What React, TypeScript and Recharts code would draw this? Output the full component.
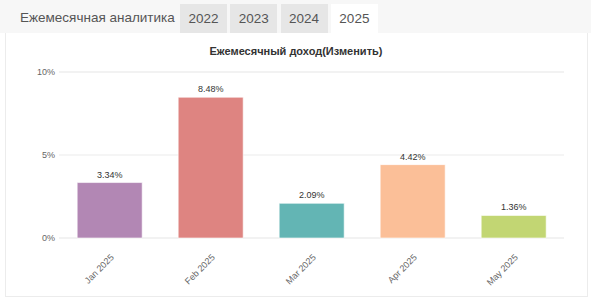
import { BarChart, Bar, XAxis, YAxis, CartesianGrid, LabelList, Cell } from 'recharts';

const months = ['Jan 2025', 'Feb 2025', 'Mar 2025', 'Apr 2025', 'May 2025'];
const incomeChange = [3.34, 8.48, 2.09, 4.42, 1.36];
const barColors = ['#b287b4', '#de8481', '#63b5b4', '#fbbf98', '#c2d673'];
const majorTicks = [0, 5, 10];
const minorTicks = [0, 1, 2, 3, 4, 5, 6, 7, 8, 9, 10];
const years = ['2022', '2023', '2024', '2025'];

const data = months.map((m, i) => ({ month: m, value: incomeChange[i] }));

const font = '"Liberation Sans", Arial, sans-serif';

function MonthTick({ x, y, payload }: any) {
    return (
        <text
            x={x}
            y={y}
            dx={-5}
            dy={12}
            transform={`rotate(-45 ${x} ${y})`}
            textAnchor="end"
            fontSize={9}
            fill="#666"
            fontFamily={font}
        >
            {payload.value}
        </text>
    );
}

export default function App() {
    return (
        <div style={{ position: 'relative', width: 591, height: 300, fontFamily: font, background: '#fff', overflow: 'hidden' }}>
            <style>{'body{margin:0}'}</style>
            <div style={{ position: 'absolute', left: 0, top: 0, width: 591, height: 33, background: '#f7f7f7' }} />
            <div style={{ position: 'absolute', left: 20, top: 10, fontSize: 13.5, color: '#555' }}>Ежемесячная аналитика</div>
            {years.map((y, i) => (
                <div
                    key={y}
                    style={{
                        position: 'absolute',
                        left: 180 + i * 50.3,
                        top: 4,
                        width: 47,
                        height: i === 3 ? 30 : 29,
                        background: i === 3 ? '#fff' : '#e6e6e6',
                        color: '#555',
                        fontSize: 13.5,
                        textAlign: 'center',
                        lineHeight: '29px',
                    }}
                >
                    {y}
                </div>
            ))}
            <div
                style={{
                    position: 'absolute',
                    left: 5,
                    top: 33,
                    width: 581,
                    height: 263,
                    borderLeft: '1px solid #ececec',
                    borderRight: '1px solid #ececec',
                    borderBottom: '1px solid #ececec',
                }}
            />
            <div
                style={{
                    position: 'absolute',
                    left: 5,
                    top: 45,
                    width: 582,
                    textAlign: 'center',
                    fontSize: 11,
                    fontWeight: 'bold',
                    color: '#333',
                }}
            >
                Ежемесячный доход(Изменить)
            </div>
            <div style={{ position: 'absolute', left: 0, top: 33 }}>
                <BarChart
                    width={591}
                    height={264}
                    data={data}
                    margin={{ top: 39, right: 27, bottom: 9, left: 0 }}
                    barCategoryGap="18%"
                >
                    <CartesianGrid yAxisId="minor" vertical={false} stroke="#f4f4f4" />
                    <CartesianGrid vertical={false} stroke="#ebebeb" />
                    <XAxis
                        dataKey="month"
                        tick={<MonthTick />}
                        tickLine={false}
                        axisLine={false}
                        interval={0}
                        height={50}
                    />
                    <YAxis
                        domain={[0, 10]}
                        ticks={majorTicks}
                        tickFormatter={(v) => `${v}%`}
                        tick={{ fontSize: 9, fill: '#666', fontFamily: font }}
                        tickLine={false}
                        axisLine={false}
                        tickSize={4}
                        tickMargin={0}
                        width={59}
                    />
                    <YAxis yAxisId="minor" domain={[0, 10]} ticks={minorTicks} hide />
                    <Bar dataKey="value" isAnimationActive={false} stroke="rgba(255,255,255,0.6)" strokeWidth={1}>
                        {data.map((d, i) => (
                            <Cell key={d.month} fill={barColors[i]} />
                        ))}
                        <LabelList
                            dataKey="value"
                            position="top"
                            offset={5}
                            formatter={(v: any) => `${v}%`}
                            style={{ fontSize: 9, fill: '#333', fontFamily: font }}
                        />
                    </Bar>
                </BarChart>
            </div>
        </div>
    );
}
